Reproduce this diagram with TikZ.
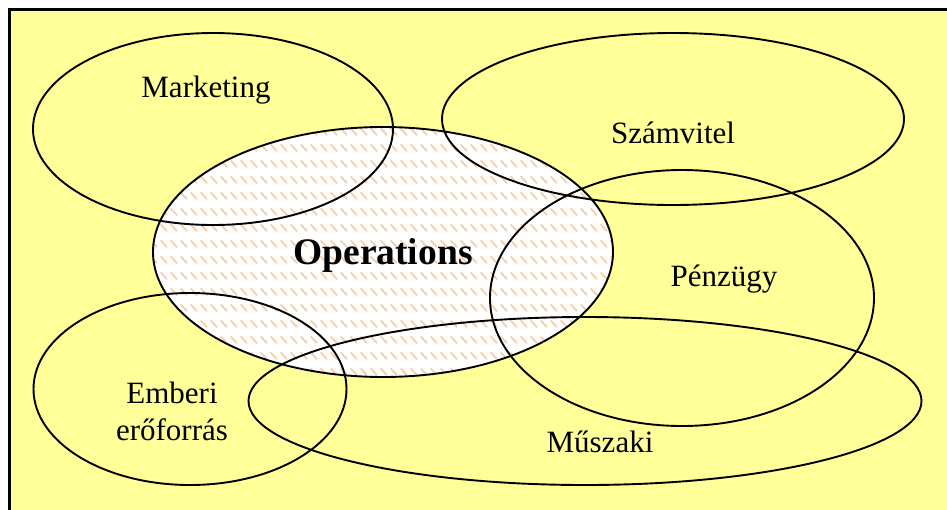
\documentclass[tikz,border=0pt]{standalone}
\usepackage{fontspec}
\setmainfont{Liberation Serif}
\usetikzlibrary{shapes.geometric,patterns.meta}

\definecolor{panelyellow}{RGB}{255,255,153}
\definecolor{hatchorange}{RGB}{255,205,160}

% short diagonal dashes used to shade the central area
\tikzdeclarepattern{
  name=opshatch,
  type=colored,
  bounding box={(0pt,0pt) and (10pt,16pt)},
  tile size={(10pt,16pt)},
  code={
    \draw[hatchorange, line width=2pt, line cap=round]
      (1pt,14pt) -- (7.5pt,7.5pt);
  }
}

\tikzset{
  area/.style={ellipse, draw=black, line width=1.9pt, inner sep=0pt},
  lbl/.style={anchor=base, inner sep=0pt, font=\fontsize{31}{35}\selectfont},
}

\begin{document}
\begin{tikzpicture}[x=1pt,y=-1pt]
  \useasboundingbox (0,0) rectangle (947,509);
  \clip (0,0) rectangle (947,509);

  % background panel
  \fill[white] (0,0) rectangle (947,509);
  \draw[fill=panelyellow, line width=3.6pt] (9.5,9.5) rectangle (980,540);

  % shaded central area
  \fill[white] (383,252) ellipse [x radius=230, y radius=125];
  \fill[pattern=opshatch] (383,252) ellipse [x radius=230, y radius=125];

  % outlines of the functional areas
  \node[area, minimum width=360pt, minimum height=192pt] (mkt) at (213,129) {};
  \node[area, minimum width=462pt, minimum height=172pt] (acc) at (673,119) {};
  \node[area, minimum width=460pt, minimum height=250pt] (ops) at (383,252) {};
  \node[area, minimum width=384pt, minimum height=256pt] (fin) at (682,298) {};
  \node[area, minimum width=313pt, minimum height=192pt] (hr)  at (190,389) {};
  \node[area, minimum width=673pt, minimum height=168pt] (eng) at (585,401) {};

  % labels
  \node[lbl] (tmkt) at (206,97) {Marketing};
  \node[lbl] (tacc) at (673,143) {Számvitel};
  \node[lbl, font=\fontsize{37.5}{41}\selectfont\bfseries] (tops) at (383,264) {Operations};
  \node[lbl] (tfin) at (724,286) {Pénzügy};
  \node[lbl] (thr1) at (172,403) {Emberi};
  \node[lbl] (thr2) at (172,440) {erőforrás};
  \node[lbl] (teng) at (600,452) {Műszaki};
\end{tikzpicture}
\end{document}
